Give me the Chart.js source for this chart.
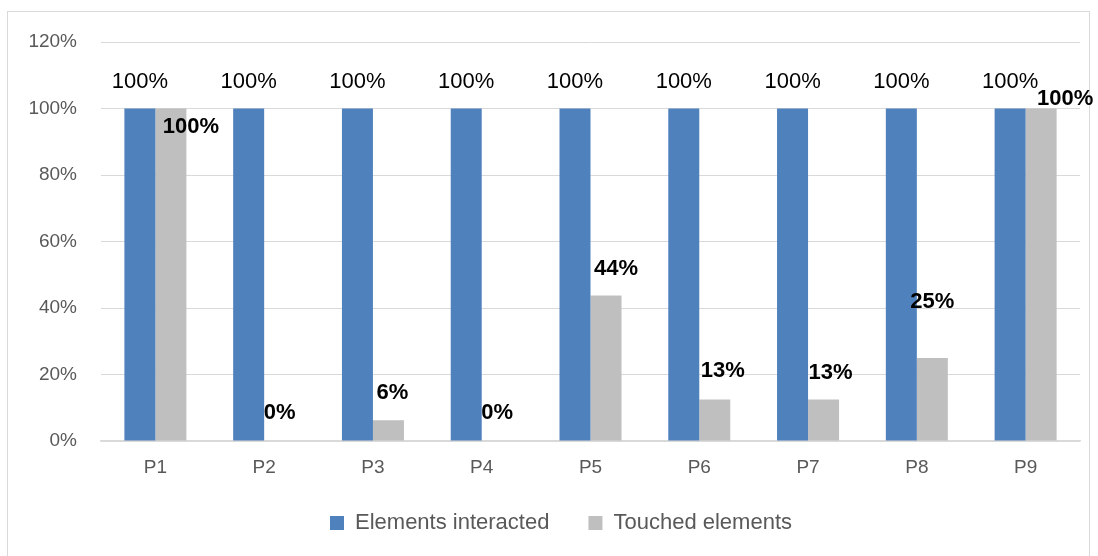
<!DOCTYPE html>
<html>
<head>
<meta charset="utf-8">
<script src="https://cdn.jsdelivr.net/npm/chart.js@4"></script>
<style>
  html, body { margin: 0; padding: 0; background: #fff; }
  #wrap { position: relative; width: 1098px; height: 556px; overflow: hidden; }
  #frame { position: absolute; left: 7px; top: 11px; width: 1083px; height: 600px; border: 1px solid #d9d9d9; box-sizing: border-box; }
  canvas { position: absolute; left: 0; top: 0; }
</style>
</head>
<body>
<div id="wrap">
  <div id="frame"></div>
  <canvas id="myChart" width="1098" height="556"></canvas>
</div>
<script>
// data block
const categories = ['P1', 'P2', 'P3', 'P4', 'P5', 'P6', 'P7', 'P8', 'P9'];
const elementsInteracted = [1, 1, 1, 1, 1, 1, 1, 1, 1];
const touchedElements = [1, 0, 0.0625, 0, 0.4375, 0.125, 0.125, 0.25, 1];
const yTickLabels = ['0%', '20%', '40%', '60%', '80%', '100%', '120%'];

// label nudges (pixels) for the value labels, like hand-placed labels in the original
const labelNudge = [
    [[0, -27], [0, -27], [0, -27], [0, -27], [0, -27], [0, -27], [0, -27], [0, -27], [0, -27]],
    [[20, 18], [0, -28], [4, -27], [0, -28], [10, -27], [8, -29], [7, -27], [0, -56], [24, -10]]
];

const valueLabels = {
    id: 'valueLabels',
    afterLayout(chart) {
        // legend sits a bit right of the canvas centre in the original
        chart.legend.left += 42;
    },
    afterDatasetsDraw(chart) {
        const ctx = chart.ctx;
        ctx.save();
        ctx.textAlign = 'center';
        ctx.textBaseline = 'middle';
        ctx.fillStyle = '#000';
        chart.data.datasets.forEach((ds, d) => {
            ctx.font = (d === 1 ? 'bold ' : '') + '22px "Liberation Sans", Arial, sans-serif';
            chart.getDatasetMeta(d).data.forEach((bar, i) => {
                const txt = Math.round(ds.data[i] * 100) + '%';
                ctx.fillText(txt, bar.x + labelNudge[d][i][0], bar.y + labelNudge[d][i][1]);
            });
        });
        ctx.restore();
    }
};

const tickFont = { family: '"Liberation Sans", Arial, sans-serif', size: 19 };

// config block
const config = {
    type: 'bar',
    data: {
        labels: categories,
        datasets: [{
            label: 'Elements interacted',
            data: elementsInteracted,
            backgroundColor: '#4f81bd',
            categoryPercentage: 0.57,
            barPercentage: 1.0
        }, {
            label: 'Touched elements',
            data: touchedElements,
            backgroundColor: '#bfbfbf',
            categoryPercentage: 0.57,
            barPercentage: 1.0
        }]
    },
    options: {
        responsive: false,
        animation: false,
        layout: { padding: { left: 0, right: 18, top: 42, bottom: 12 } },
        scales: {
            x: {
                grid: { display: false, drawTicks: false },
                border: { color: '#d9d9d9', width: 1.5 },
                ticks: { color: '#595959', font: tickFont, padding: 15 },
                afterFit: (s) => { s.height = 32; }
            },
            y: {
                min: 0,
                max: 1.2,
                grid: { color: '#d9d9d9', drawTicks: false },
                border: { display: false },
                ticks: {
                    stepSize: 0.2,
                    color: '#595959',
                    font: tickFont,
                    padding: 24,
                    callback: (v, i) => yTickLabels[i]
                },
                afterFit: (s) => { s.width = 101; }
            }
        },
        plugins: {
            legend: {
                position: 'bottom',
                labels: {
                    boxWidth: 14,
                    boxHeight: 14,
                    padding: 39,
                    color: '#595959',
                    font: { family: '"Liberation Sans", Arial, sans-serif', size: 22 }
                }
            },
            tooltip: { enabled: false }
        }
    },
    plugins: [valueLabels]
};

// init render block
const myChart = new Chart(document.getElementById('myChart'), config);
</script>
</body>
</html>
